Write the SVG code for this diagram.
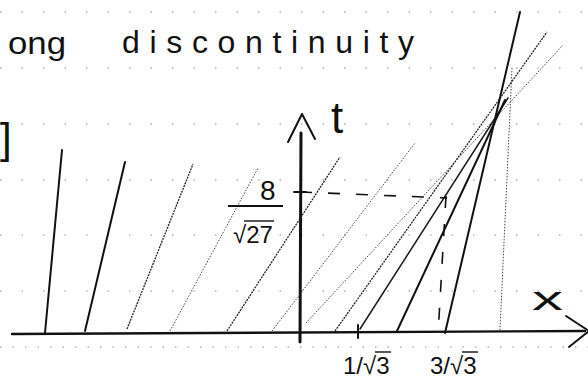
<svg xmlns="http://www.w3.org/2000/svg" width="588" height="379" viewBox="0 0 588 379">
<style>
 .rule{stroke:#8a8a8a;stroke-width:1.2;stroke-dasharray:1.5 20;fill:none}
 .rule2{stroke:#8a8a8a;stroke-width:1.2;stroke-dasharray:1.5 11;fill:none}
 .hw{font-family:"Liberation Sans","DejaVu Sans",sans-serif;fill:#111}
 .solid{stroke:#111;stroke-width:2;fill:none;stroke-linecap:round}
 .thin{stroke:#1a1a1a;stroke-width:1.5;fill:none;stroke-linecap:round}
 .med{stroke:#222;stroke-width:1.3;fill:none;stroke-dasharray:2 1}
 .faint{stroke:#444;stroke-width:1;fill:none;stroke-dasharray:1.5 1.5}
 .dash{stroke:#111;stroke-width:1.6;fill:none;stroke-dasharray:12 16}
 .axis{stroke:#111;fill:none;stroke-linecap:round;stroke-linejoin:round}
 .bar{stroke:#111;stroke-width:1.4;fill:none}
</style>
<rect width="588" height="379" fill="#fff"/>
<g id="paper-rules">
 <line class="rule" x1="0" y1="12" x2="588" y2="12"/>
 <line class="rule" x1="0" y1="68" x2="588" y2="68"/>
 <line class="rule" x1="0" y1="124" x2="588" y2="124"/>
 <line class="rule" x1="0" y1="180" x2="588" y2="180"/>
 <line class="rule" x1="0" y1="235" x2="588" y2="235"/>
 <line class="rule" x1="0" y1="291" x2="588" y2="291"/>
 <line class="rule2" x1="0" y1="347" x2="588" y2="347"/>
</g>
<g id="title" class="hw">
 <text x="8" y="54" font-size="32" textLength="58" lengthAdjust="spacingAndGlyphs">ong</text>
 <text x="122" y="53" font-size="32" textLength="292" lengthAdjust="spacing">discontinuity</text>
 <text x="0" y="153" font-size="42">]</text>
</g>
<g id="axes">
 <line class="axis" x1="12" y1="334" x2="585" y2="331" stroke-width="2.4"/>
 <polyline class="axis" points="566,316 589,331 569,347" stroke-width="2"/>
 <line class="axis" x1="301" y1="133" x2="300" y2="342" stroke-width="3"/>
 <polyline class="axis" points="288,142 302,114 315,139" stroke-width="2"/>
 <line class="axis" x1="358" y1="325" x2="358" y2="338" stroke-width="2"/>
 <line class="axis" x1="294" y1="192" x2="306" y2="192" stroke-width="2"/>
</g>
<g id="guides">
 <line class="dash" x1="300" y1="192" x2="447" y2="198"/>
 <line class="dash" x1="446" y1="196" x2="438" y2="335"/>
 <line class="faint" x1="512" y1="68" x2="500" y2="330"/>
</g>
<g id="characteristics">
 <line class="solid" x1="45" y1="333" x2="62" y2="150"/>
 <line class="solid" x1="85" y1="331" x2="125" y2="162"/>
 <line class="med" x1="127" y1="329" x2="193" y2="164"/>
 <line class="faint" x1="170" y1="331" x2="258" y2="168"/>
 <line class="med" x1="227" y1="331" x2="340" y2="157"/>
 <line class="faint" x1="272" y1="331" x2="415" y2="143"/>
 <line class="faint" x1="306" y1="323" x2="563" y2="45"/>
 <line class="med" x1="335" y1="331" x2="547" y2="32"/>
 <line class="thin" x1="360" y1="329" x2="508" y2="98"/>
 <line class="solid" x1="397" y1="331" x2="505" y2="100"/>
 <line class="solid" x1="445" y1="333" x2="520" y2="12"/>
</g>
<g id="labels" class="hw">
 <text x="331" y="133" font-size="44">t</text>
 <text x="532" y="310" font-size="34" textLength="31" lengthAdjust="spacingAndGlyphs">x</text>
 <text x="260" y="200" font-size="28">8</text>
 <line x1="228" y1="206" x2="283" y2="206" stroke="#111" stroke-width="1.8"/>
 <text x="233" y="243" font-size="24">√27</text>
 <line class="bar" x1="244" y1="221" x2="274" y2="221"/>
 <text x="343" y="374" font-size="24">1/√3</text>
 <line class="bar" x1="375" y1="352" x2="391" y2="352"/>
 <text x="430" y="374" font-size="24">3/√3</text>
 <line class="bar" x1="462" y1="352" x2="478" y2="352"/>
</g>
</svg>
